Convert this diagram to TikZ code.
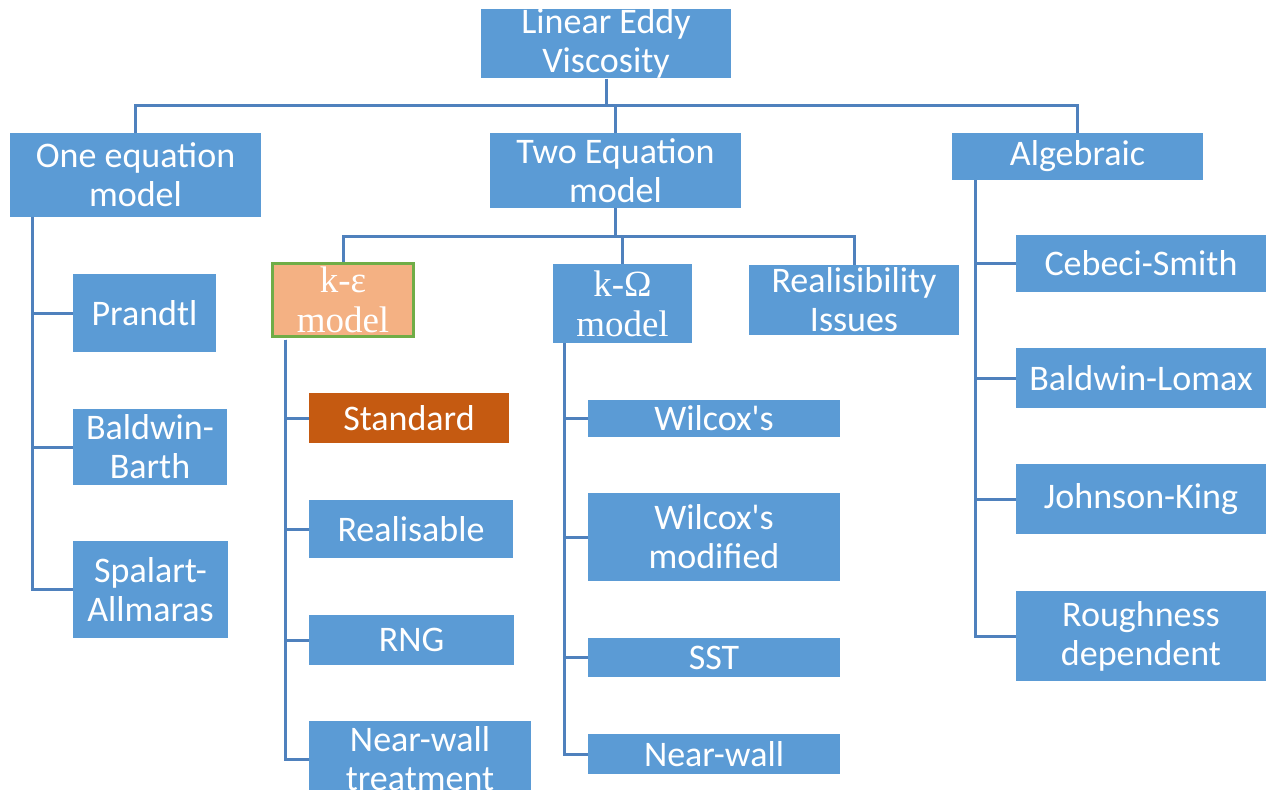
\documentclass[tikz,border=0pt]{standalone}
\usepackage{fontspec}
\setmainfont{Carlito}[Ligatures=TeXOff]
\newfontfamily\serifgreek{Liberation Serif}
\usetikzlibrary{positioning}
\definecolor{boxblue}{RGB}{91,155,213}
\definecolor{linkblue}{RGB}{79,129,189}
\definecolor{stdorange}{RGB}{197,90,17}
\definecolor{kepfill}{RGB}{244,177,131}
\definecolor{kepgreen}{RGB}{112,173,71}
\tikzset{
  box/.style={fill=boxblue,text=white,inner sep=0pt,align=center,
    font=\fontsize{36}{39}\selectfont},
  link/.style={draw=linkblue,line width=3pt}
}

\begin{document}
\begin{tikzpicture}[x=1pt,y=-1pt]
\useasboundingbox (0,0) rectangle (1270,790);
\clip (0,0) rectangle (1270,790);

% top levels
\node[box,minimum width=250pt,minimum height=67pt] (root) at (606,43.5) {Linear Eddy\\Viscosity};
\node[box,minimum width=251pt,minimum height=84pt] (one) at (135.5,175) {One equation\\model};
\node[box,minimum width=251pt,minimum height=75pt] (two) at (615.5,170.5) {Two Equation\\model};
\node[box,minimum width=251pt,minimum height=47pt] (alg) at (1077.5,156.5) {Algebraic};

% two equation branch
\node[box,fill=kepfill,draw=kepgreen,line width=3pt,minimum width=141pt,minimum height=73pt,
  font=\serifgreek\fontsize{37}{40}\selectfont] (kep) at (343,300) {k-ε\\model};
\node[box,minimum width=139pt,minimum height=79pt,
  font=\serifgreek\fontsize{37}{40}\selectfont] (kom) at (622.5,303.5) {k-Ω\\model};
\node[box,minimum width=210pt,minimum height=70pt] (real) at (854,300) {Realisibility\\Issues};

% one equation children
\node[box,minimum width=143pt,minimum height=78pt] (prandtl) at (144.5,313) {Prandtl};
\node[box,minimum width=154pt,minimum height=76pt] (bbarth) at (150,447) {Baldwin-\\Barth};
\node[box,minimum width=155pt,minimum height=97pt] (spal) at (150.5,589.5) {Spalart-\\Allmaras};

% k-epsilon children
\node[box,fill=stdorange,minimum width=200pt,minimum height=50pt] (std) at (409,418) {Standard};
\node[box,minimum width=204pt,minimum height=58pt] (rlz) at (411,529) {Realisable};
\node[box,minimum width=205pt,minimum height=50pt] (rng) at (411.5,640) {RNG};
\node[box,minimum width=222pt,minimum height=76pt] (nwt) at (420,759) {Near-wall\\treatment};

% k-omega children
\node[box,minimum width=252pt,minimum height=37pt] (wil) at (714,418.5) {Wilcox's};
\node[box,minimum width=252pt,minimum height=88pt] (wilm) at (714,537) {Wilcox's\\modified};
\node[box,minimum width=252pt,minimum height=39pt] (sst) at (714,657.5) {SST};
\node[box,minimum width=252pt,minimum height=40pt] (nw) at (714,754) {Near-wall};

% algebraic children
\node[box,minimum width=250pt,minimum height=57pt] (ceb) at (1141,263.5) {Cebeci-Smith};
\node[box,minimum width=250pt,minimum height=60pt] (bl) at (1141,378) {Baldwin-Lomax};
\node[box,minimum width=250pt,minimum height=70pt] (jk) at (1141,499) {Johnson-King};
\node[box,minimum width=250pt,minimum height=90pt] (rough) at (1141,636) {Roughness\\dependent};

% connectors
\path (root.south) ++(0,27) coordinate (bus);
\draw[link] (root.south) -- (bus);
\foreach \child in {one,two,alg}
  \draw[link] (bus) -| (\child.north);

\path (two.south) ++(0,28) coordinate (bus2);
\draw[link] (two.south) -- (bus2);
\foreach \child in {kep,kom,real}
  \draw[link] (bus2) -| (\child.north);

\foreach \child in {prandtl,bbarth,spal}
  \draw[link] ([xshift=23pt]one.south west) |- (\child.west);
\foreach \child in {std,rlz,rng,nwt}
  \draw[link] ([xshift=14pt,yshift=-1.5pt]kep.south west) |- (\child.west);
\foreach \child in {wil,wilm,sst,nw}
  \draw[link] ([xshift=12pt]kom.south west) |- (\child.west);
\foreach \child in {ceb,bl,jk,rough}
  \draw[link] ([xshift=24pt]alg.south west) |- (\child.west);
\end{tikzpicture}
\end{document}
